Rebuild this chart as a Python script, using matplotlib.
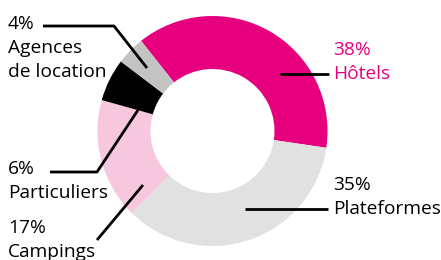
import matplotlib.pyplot as plt

# donut data
labels = ["Hôtels", "Plateformes", "Campings", "Particuliers", "Agences\nde location"]
values = [38, 35, 17, 6, 4]
colors = ["#E6007E", "#E1E1E1", "#F7C7DE", "#000000", "#C3C3C3"]

W, H = 441, 260
plt.rcParams["font.family"] = ["Open Sans", "DejaVu Sans"]

fig = plt.figure(figsize=(W / 100, H / 100), dpi=100)
ax = fig.add_axes([0, 0, 1, 1])

cx, cy, r = 212.5, H - 131, 115
ax.pie(values, colors=colors, startangle=128.4, counterclock=False,
       center=(cx, cy), radius=r, wedgeprops=dict(width=53, linewidth=0))

ax.set_xlim(0, W)
ax.set_ylim(0, H)
ax.set_aspect("equal")
ax.axis("off")

def y(v):
    return H - v

# label text: (x, baseline of pct line, colour)
label_pos = {
    "Hôtels": (333, 55, "#E6007E"),
    "Plateformes": (333, 190, "black"),
    "Campings": (8, 233, "black"),
    "Particuliers": (8, 174, "black"),
    "Agences\nde location": (8, 29, "black"),
}
# leader lines in pixel coords
leaders = {
    "Hôtels": [(280, 74), (329, 74)],
    "Plateformes": [(245, 209), (328, 209)],
    "Campings": [(143, 185), (97, 240)],
    "Particuliers": [(50, 172), (97, 172), (138, 110)],
    "Agences\nde location": [(43, 26), (114, 26), (147, 68)],
}

for lab, val in zip(labels, values):
    x0, b0, col = label_pos[lab]
    lines = ["%d%%" % val] + lab.split("\n")
    for i, t in enumerate(lines):
        ax.text(x0, y(b0 + 24 * i), t, color=col, fontsize=13.8, va="baseline", ha="left")
    pts = leaders[lab]
    ax.plot([p[0] for p in pts], [y(p[1]) for p in pts], color="black", lw=2, solid_capstyle="butt")

fig.savefig("out.png", dpi=100)
